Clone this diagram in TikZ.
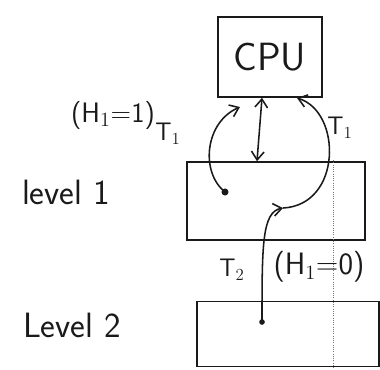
\documentclass[tikz,border=0pt]{standalone}
\usepackage{tikz}
\usetikzlibrary{arrows.meta}
\definecolor{matita}{HTML}{1A1A1A}

\begin{document}
\begin{tikzpicture}[
      x=0.025cm, y=-0.025cm,
      line width=1.1pt, draw=matita,
      every node/.style={text=matita, font=\sffamily\fontsize{20}{22}\selectfont},
      blocco/.style={draw=matita, line width=1.1pt, inner sep=0pt},
      etichetta/.style={inner sep=1pt},
      livello/.style={inner sep=1pt, font=\sffamily\fontsize{25}{27}\selectfont},
      freccia/.style={draw=matita, -{Straight Barb[length=6pt,width=9pt]}}
    ]
    \useasboundingbox (0,0) rectangle (380,369);
    % blocchi
    \node[blocco, minimum width=2.6cm, minimum height=2cm,
      font=\sffamily\fontsize{28}{30}\selectfont] (cpu) at (270,57) {CPU};
    \node[blocco, minimum width=4.45cm, minimum height=1.95cm] (l1) at (276,201) {};
    \node[blocco, minimum width=4.55cm, minimum height=1.625cm] (l2) at (288,334) {};
    \draw[densely dotted, line width=0.6pt, matita!60] (333,160) -- (333,369);
    % punti
    \coordinate (p1) at (225,192);
    \coordinate (p2) at (283,208);
    \coordinate (p3) at (262,322);
    \coordinate (t1a) at (240,107);
    \coordinate (t1b) at (297,98);
    \fill[matita] (p1) circle (2.5pt);
    \fill[matita] (p3) circle (2pt);
    % frecce
    \draw[freccia, {Straight Barb[length=6pt,width=9pt]}-{Straight Barb[length=6pt,width=9pt]}]
      ([xshift=-0.2cm]cpu.south) -- ([xshift=-0.475cm]l1.north);
    \draw[freccia] (p1) .. controls (200,172) and (205,122) .. (t1a);
    \draw[freccia] (p2) .. controls (342,205) and (342,112) .. (t1b);
    \draw[freccia] (p3) .. controls (262,245) and (262,212) .. (p2);
    % Etichette
    \node[livello] (lv1) at (66,192) {level 1};
    \node[livello] (lv2) at (72,325) {Level 2};
    \node[etichetta] (h1) at (113,115) {(H$_1$=1)};
    \node[etichetta, font=\sffamily\fontsize{18}{20}\selectfont] (ta) at (168,134) {T$_1$};
    \node[etichetta, font=\sffamily\fontsize{18}{20}\selectfont] (tb) at (340,128) {T$_1$};
    \node[etichetta, font=\sffamily\fontsize{18}{20}\selectfont] (tc) at (232,270) {T$_2$};
    \node[etichetta, font=\sffamily\fontsize{22}{24}\selectfont] (h0) at (319,267) {(H$_1$=0)};
  \end{tikzpicture}
\end{document}
